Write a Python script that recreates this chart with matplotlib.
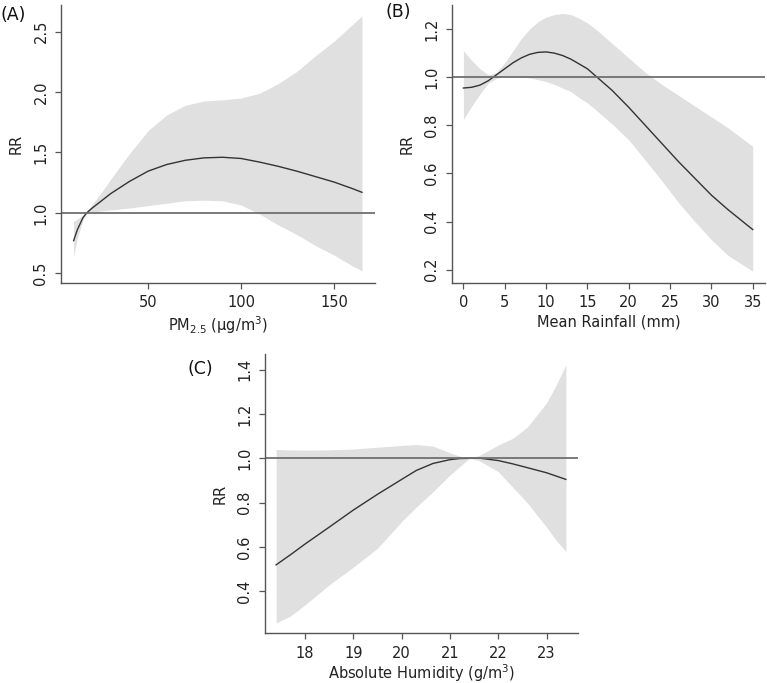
import numpy as np
import matplotlib
matplotlib.use('Agg')
import matplotlib.pyplot as plt

# --- Panel A: PM2.5
xA     = [10, 12, 15, 17, 20, 25, 30, 40, 50, 60, 70, 80, 90, 100, 110, 120, 130, 140, 150, 160, 165]
rrA    = [0.77, 0.86, 0.96, 1.00, 1.04, 1.10, 1.16, 1.26, 1.345, 1.40, 1.435, 1.455, 1.46, 1.45, 1.42, 1.385, 1.345, 1.30, 1.255, 1.20, 1.17]
upA    = [0.93, 0.95, 0.98, 1.01, 1.07, 1.17, 1.28, 1.49, 1.68, 1.81, 1.89, 1.925, 1.935, 1.95, 1.99, 2.07, 2.17, 2.30, 2.42, 2.56, 2.63]
loA    = [0.64, 0.79, 0.94, 0.99, 1.005, 1.015, 1.025, 1.04, 1.06, 1.08, 1.10, 1.105, 1.10, 1.065, 0.99, 0.90, 0.82, 0.73, 0.65, 0.56, 0.52]

# --- Panel B: rainfall
xB     = [0, 1, 2, 3, 4, 5, 6, 7, 8, 9, 10, 11, 12, 13, 14, 15, 16, 17, 18, 20, 22, 24, 26, 28, 30, 32, 35]
rrB    = [0.955, 0.958, 0.967, 0.985, 1.01, 1.035, 1.06, 1.08, 1.095, 1.103, 1.105, 1.10, 1.09, 1.075, 1.055, 1.035,
          1.005, 0.975, 0.945, 0.875, 0.80, 0.725, 0.65, 0.58, 0.51, 0.45, 0.367]
upB    = [1.11, 1.07, 1.035, 1.01, 1.02, 1.06, 1.11, 1.16, 1.20, 1.23, 1.25, 1.26, 1.265, 1.26, 1.245, 1.225,
          1.20, 1.17, 1.14, 1.08, 1.02, 0.97, 0.925, 0.88, 0.835, 0.79, 0.713]
loB    = [0.824, 0.88, 0.93, 0.975, 0.995, 1.003, 1.004, 1.001, 0.997, 0.99, 0.982, 0.97, 0.955, 0.94, 0.915, 0.893,
          0.865, 0.835, 0.805, 0.74, 0.655, 0.57, 0.48, 0.40, 0.325, 0.26, 0.194]

# --- Panel C: absolute humidity
xC     = [17.4, 17.7, 18.0, 18.5, 19.0, 19.5, 20.0, 20.3, 20.65, 21.0, 21.2, 21.4, 21.6, 22.0, 22.3, 22.6, 23.0, 23.2, 23.4]
rrC    = [0.52, 0.566, 0.614, 0.69, 0.767, 0.838, 0.905, 0.945, 0.977, 0.994, 0.999, 1.0, 1.001, 0.99, 0.975, 0.958, 0.935, 0.92, 0.905]
upC    = [1.04, 1.038, 1.037, 1.038, 1.042, 1.05, 1.058, 1.062, 1.055, 1.025, 1.01, 1.0, 1.012, 1.06, 1.09, 1.14, 1.25, 1.33, 1.42]
loC    = [0.258, 0.29, 0.34, 0.43, 0.51, 0.595, 0.715, 0.78, 0.85, 0.925, 0.962, 1.0, 0.99, 0.94, 0.87, 0.80, 0.69, 0.63, 0.58]

panels = [
    dict(x=xA, rr=rrA, up=upA, lo=loA, rect=[0.0795, 0.5857, 0.4094, 0.407], xlim=(3.2, 172), ylim=(0.42, 2.72),
         xt=[50, 100, 150], yt=[0.5, 1.0, 1.5, 2.0, 2.5], ytl=['0.5', '1.0', '1.5', '2.0', '2.5'],
         xlabel='PM$_{2.5}$ (μg/m$^3$)', lpad=3, tag='(A)', tagpos=(0.0, 0.978)),
    dict(x=xB, rr=rrB, up=upB, lo=loB, rect=[0.589, 0.5857, 0.4085, 0.407], xlim=(-1.41, 36.5), ylim=(0.145, 1.30),
         xt=[0, 5, 10, 15, 20, 25, 30, 35], yt=[0.2, 0.4, 0.6, 0.8, 1.0, 1.2], ytl=['0.2', '0.4', '0.6', '0.8', '1.0', '1.2'],
         xlabel='Mean Rainfall (mm)', lpad=3, tag='(B)', tagpos=(0.502, 0.982)),
    dict(x=xC, rr=rrC, up=upC, lo=loC, rect=[0.3455, 0.0732, 0.408, 0.4085], xlim=(17.17, 23.65), ylim=(0.213, 1.47),
         xt=[18, 19, 20, 21, 22, 23], yt=[0.4, 0.6, 0.8, 1.0, 1.2, 1.4], ytl=['0.4', '0.6', '0.8', '1.0', '1.2', '1.4'],
         xlabel='Absolute Humidity (g/m$^3$)', lpad=1.5, tag='(C)', tagpos=(0.244, 0.46)),
]

fig = plt.figure(figsize=(7.67, 6.83), dpi=100)
for p in panels:
    ax = fig.add_axes(p['rect'])
    ax.fill_between(p['x'], p['lo'], p['up'], color='#e0e0e0', lw=0)
    ax.plot(p['x'], p['rr'], color='#333333', lw=1.0)
    ax.axhline(1.0, color='#707070', lw=1.3)
    ax.set_xlim(p['xlim'])
    ax.set_ylim(p['ylim'])
    ax.set_xticks(p['xt'])
    ax.set_yticks(p['yt'])
    ax.set_yticklabels(p['ytl'], rotation=90, va='center')
    ax.spines['top'].set_visible(False)
    ax.spines['right'].set_visible(False)
    for s in ['left', 'bottom']:
        ax.spines[s].set_color('#555555')
        ax.spines[s].set_linewidth(1.0)
    ax.tick_params(direction='out', length=4, width=0.9, color='#555555', labelsize=10.5, labelcolor='#222222', pad=5)
    ax.set_xlabel(p['xlabel'], fontsize=10.5, color='#222222', labelpad=p['lpad'])
    ax.set_ylabel('RR', fontsize=10.5, color='#222222', labelpad=7)
    fig.text(p['tagpos'][0], p['tagpos'][1], p['tag'], fontsize=12.5, color='#111111', va='center', ha='left')

fig.savefig('out.png', dpi=100)
